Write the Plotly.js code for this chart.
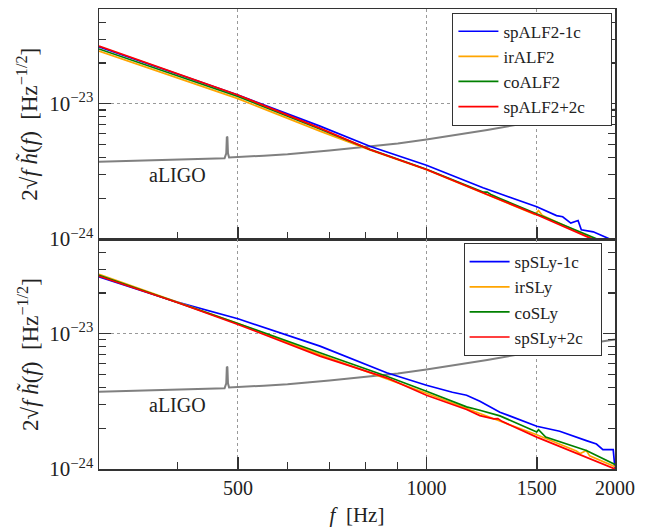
<!DOCTYPE html>
<html><head><meta charset="utf-8">
<script src="https://cdn.plot.ly/plotly-3.0.1.min.js"></script>
<style>html,body{margin:0;padding:0;background:#fff}</style>
</head><body><div id="chart" style="width:646px;height:527px"></div>
<script>
// aLIGO noise curve (shared by both panels)
const aligoF = [300, 350, 400, 450, 476, 479, 480, 481, 482, 484, 550, 600, 700, 800, 900, 1000, 1250, 1500, 1750, 2000];
const aligoH = [3.72e-24, 3.78e-24, 3.84e-24, 3.91e-24, 3.95e-24, 4.3e-24, 5.7e-24, 5.65e-24, 4.3e-24, 4.0e-24, 4.13e-24, 4.23e-24, 4.51e-24, 4.79e-24, 5.08e-24, 5.44e-24, 6.40e-24, 7.43e-24, 8.30e-24, 9.08e-24];

// Top panel: ALF2
const spALF2m1cF = [300, 500, 676, 812, 1000, 1231, 1310, 1500, 1613, 1650, 1700, 1746, 1767, 1846, 1962, 2000];
const spALF2m1cH = [2.63e-23, 1.16e-23, 6.83e-24, 4.85e-24, 3.51e-24, 2.39e-24, 2.16e-24, 1.73e-24, 1.49e-24, 1.46e-24, 1.31e-24, 1.37e-24, 1.17e-24, 1.13e-24, 1.0e-24, 0.95e-24];
const irALF2F = [300, 500, 676, 812, 1000, 1300, 1490, 1510, 1530, 1822, 2000];
const irALF2H = [2.45e-23, 1.09e-23, 6.27e-24, 4.55e-24, 3.25e-24, 1.98e-24, 1.52e-24, 1.62e-24, 1.50e-24, 1.03e-24, 0.87e-24];
const coALF2F = [300, 500, 676, 812, 1000, 1231, 1250, 1270, 1310, 1500, 1822, 2000];
const coALF2H = [2.54e-23, 1.13e-23, 6.5e-24, 4.6e-24, 3.28e-24, 2.22e-24, 2.22e-24, 2.12e-24, 1.99e-24, 1.53e-24, 1.05e-24, 0.88e-24];
const spALF2p2cF = [300, 500, 676, 812, 1000, 1231, 1310, 1500, 1822, 2000];
const spALF2p2cH = [2.67e-23, 1.16e-23, 6.6e-24, 4.59e-24, 3.26e-24, 2.19e-24, 1.96e-24, 1.51e-24, 1.02e-24, 0.86e-24];

// Bottom panel: SLy
const spSLym1cF = [300, 400, 500, 676, 864, 1000, 1100, 1159, 1217, 1310, 1500, 1632, 1800, 1868, 1913, 1987, 2000];
const spSLym1cH = [2.63e-23, 1.71e-23, 1.29e-23, 8.09e-24, 5.14e-24, 4.16e-24, 3.69e-24, 3.51e-24, 3.17e-24, 2.63e-24, 2.07e-24, 1.90e-24, 1.62e-24, 1.53e-24, 1.39e-24, 1.39e-24, 1.0e-24];
const irSLyF = [300, 400, 500, 676, 1000, 1217, 1500, 1735, 1760, 1800, 1822, 2000];
const irSLyH = [2.75e-23, 1.72e-23, 1.19e-23, 7.0e-24, 3.63e-24, 2.57e-24, 1.79e-24, 1.36e-24, 1.30e-24, 1.37e-24, 1.25e-24, 1.04e-24];
const coSLyF = [300, 400, 500, 676, 864, 1000, 1159, 1217, 1310, 1500, 1510, 1550, 1800, 2000];
const coSLyH = [2.70e-23, 1.71e-23, 1.19e-23, 7.23e-24, 4.85e-24, 3.76e-24, 2.88e-24, 2.72e-24, 2.47e-24, 1.88e-24, 1.95e-24, 1.72e-24, 1.37e-24, 1.08e-24];
const spSLyp2cF = [300, 400, 500, 676, 864, 1000, 1159, 1217, 1280, 1300, 1320, 1500, 2000];
const spSLyp2cH = [2.66e-23, 1.70e-23, 1.17e-23, 6.83e-24, 4.72e-24, 3.51e-24, 2.75e-24, 2.48e-24, 2.35e-24, 2.36e-24, 2.25e-24, 1.72e-24, 1.0e-24];

const xTickVals = [500, 1000, 1500, 2000];
const xTickText = ['500', '1000', '1500', '2000'];
const xMinorVals = [400, 600, 700, 800, 900];
const yTickVals = [1e-24, 1e-23];
const yTickText = ['10<sup>−24</sup>', '10<sup>−23</sup>'];
const yMinorVals = [2e-24, 3e-24, 4e-24, 5e-24, 6e-24, 7e-24, 8e-24, 9e-24, 2e-23, 3e-23, 4e-23, 5e-23];
const yTitleText = '2√<i>f</i> <i>h̃</i>(<i>f</i>)  [Hz<sup>−1/2</sup>]';

const FONT = 'Liberation Serif, Times New Roman, serif';
const FS = 20;
const TXT = '#222';
const NB = '\u00a0\u00a0\u00a0\u00a0\u00a0';
const NB2 = '\u00a0\u00a0\u00a0';
const C = {blue: '#0000ff', orange: '#ffa500', green: '#008000', red: '#ff0000', gray: '#808080'};

function line(x, y, name, color, xa, ya, leg, w) {
  return {x: x, y: y, name: name, type: 'scatter', mode: 'lines',
    line: {color: color, width: w || 1.7}, xaxis: xa, yaxis: ya,
    legend: leg, showlegend: !!name, hoverinfo: 'skip'};
}

const traces = [
  line(aligoF, aligoH, '', C.gray, 'x', 'y', 'legend', 2),
  line(spALF2m1cF, spALF2m1cH, 'spALF2-1c' + NB, C.blue, 'x', 'y', 'legend'),
  line(irALF2F, irALF2H, 'irALF2', C.orange, 'x', 'y', 'legend'),
  line(coALF2F, coALF2H, 'coALF2', C.green, 'x', 'y', 'legend'),
  line(spALF2p2cF, spALF2p2cH, 'spALF2+2c' + NB, C.red, 'x', 'y', 'legend'),
  line(aligoF, aligoH, '', C.gray, 'x2', 'y2', 'legend2', 2),
  line(spSLym1cF, spSLym1cH, 'spSLy-1c' + NB2, C.blue, 'x2', 'y2', 'legend2'),
  line(irSLyF, irSLyH, 'irSLy', C.orange, 'x2', 'y2', 'legend2'),
  line(coSLyF, coSLyH, 'coSLy', C.green, 'x2', 'y2', 'legend2'),
  line(spSLyp2cF, spSLyp2cH, 'spSLy+2c' + NB2, C.red, 'x2', 'y2', 'legend2')
];
traces[0].showlegend = false; traces[5].showlegend = false;

const axisCommon = {
  type: 'log', showline: true, linecolor: '#333', linewidth: 1.5,
  ticks: 'inside', ticklen: 12, tickwidth: 1.5, tickcolor: '#333',
  showgrid: true, gridcolor: '#999', griddash: 'dot', gridwidth: 1,
  zeroline: false, tickfont: {family: FONT, size: FS, color: TXT}
};
function xax(anchor, labels) {
  return Object.assign({}, axisCommon, {
    anchor: anchor, range: [Math.log10(300), Math.log10(2000)],
    tickmode: 'array', tickvals: xTickVals, ticktext: xTickText,
    showticklabels: labels, mirror: true,
    minor: {tickmode: 'array', tickvals: xMinorVals, ticks: 'inside', ticklen: 7, tickwidth: 1.2, tickcolor: '#333', showgrid: false}
  });
}
function yax(domain, anchor) {
  return Object.assign({}, axisCommon, {
    domain: domain, anchor: anchor, range: [-24, -22.3], mirror: 'ticks',
    tickmode: 'array', tickvals: yTickVals, ticktext: yTickText,
    tickfont: {family: FONT, size: 21, color: TXT},
    minor: {tickmode: 'array', tickvals: yMinorVals, ticks: 'inside', ticklen: 7, tickwidth: 1.2, tickcolor: '#333', showgrid: false}
  });
}

const legendCommon = {
  bgcolor: '#fff', bordercolor: '#333', borderwidth: 1,
  font: {family: FONT, size: 17, color: TXT}, xanchor: 'right', yanchor: 'top',
  tracegroupgap: 0, itemwidth: 40
};

const layout = {
  width: 646, height: 527,
  margin: {l: 99, r: 31, t: 9, b: 58},
  paper_bgcolor: '#fff', plot_bgcolor: '#fff',
  font: {family: FONT, size: FS, color: TXT},
  xaxis: xax('y', false),
  xaxis2: Object.assign(xax('y2', true), {
    matches: 'x',
    title: {text: '<i>f</i>  [Hz]', font: {family: FONT, size: 21, color: TXT}, standoff: 12}
  }),
  yaxis: yax([0.5, 1], 'x'),
  yaxis2: yax([0, 0.5], 'x2'),
  legend: Object.assign({x: 0.995, y: 0.992}, legendCommon),
  legend2: Object.assign({x: 0.974, y: 0.491}, legendCommon),
  annotations: [
    {text: 'aLIGO', xref: 'x', yref: 'y', x: Math.log10(400), y: -23.524, showarrow: false, font: {family: FONT, size: FS, color: TXT}},
    {text: 'aLIGO', xref: 'x2', yref: 'y2', x: Math.log10(400), y: -23.524, showarrow: false, font: {family: FONT, size: FS, color: TXT}},
    {text: yTitleText, xref: 'paper', yref: 'paper', x: -0.1376, y: 0.7507, xanchor: 'center', yanchor: 'middle', textangle: -90, showarrow: false, font: {family: FONT, size: 23, color: TXT}},
    {text: yTitleText, xref: 'paper', yref: 'paper', x: -0.1376, y: 0.25, xanchor: 'center', yanchor: 'middle', textangle: -90, showarrow: false, font: {family: FONT, size: 23, color: TXT}}
  ]
};

Plotly.newPlot('chart', traces, layout, {displayModeBar: false, staticPlot: true});
</script></body></html>
